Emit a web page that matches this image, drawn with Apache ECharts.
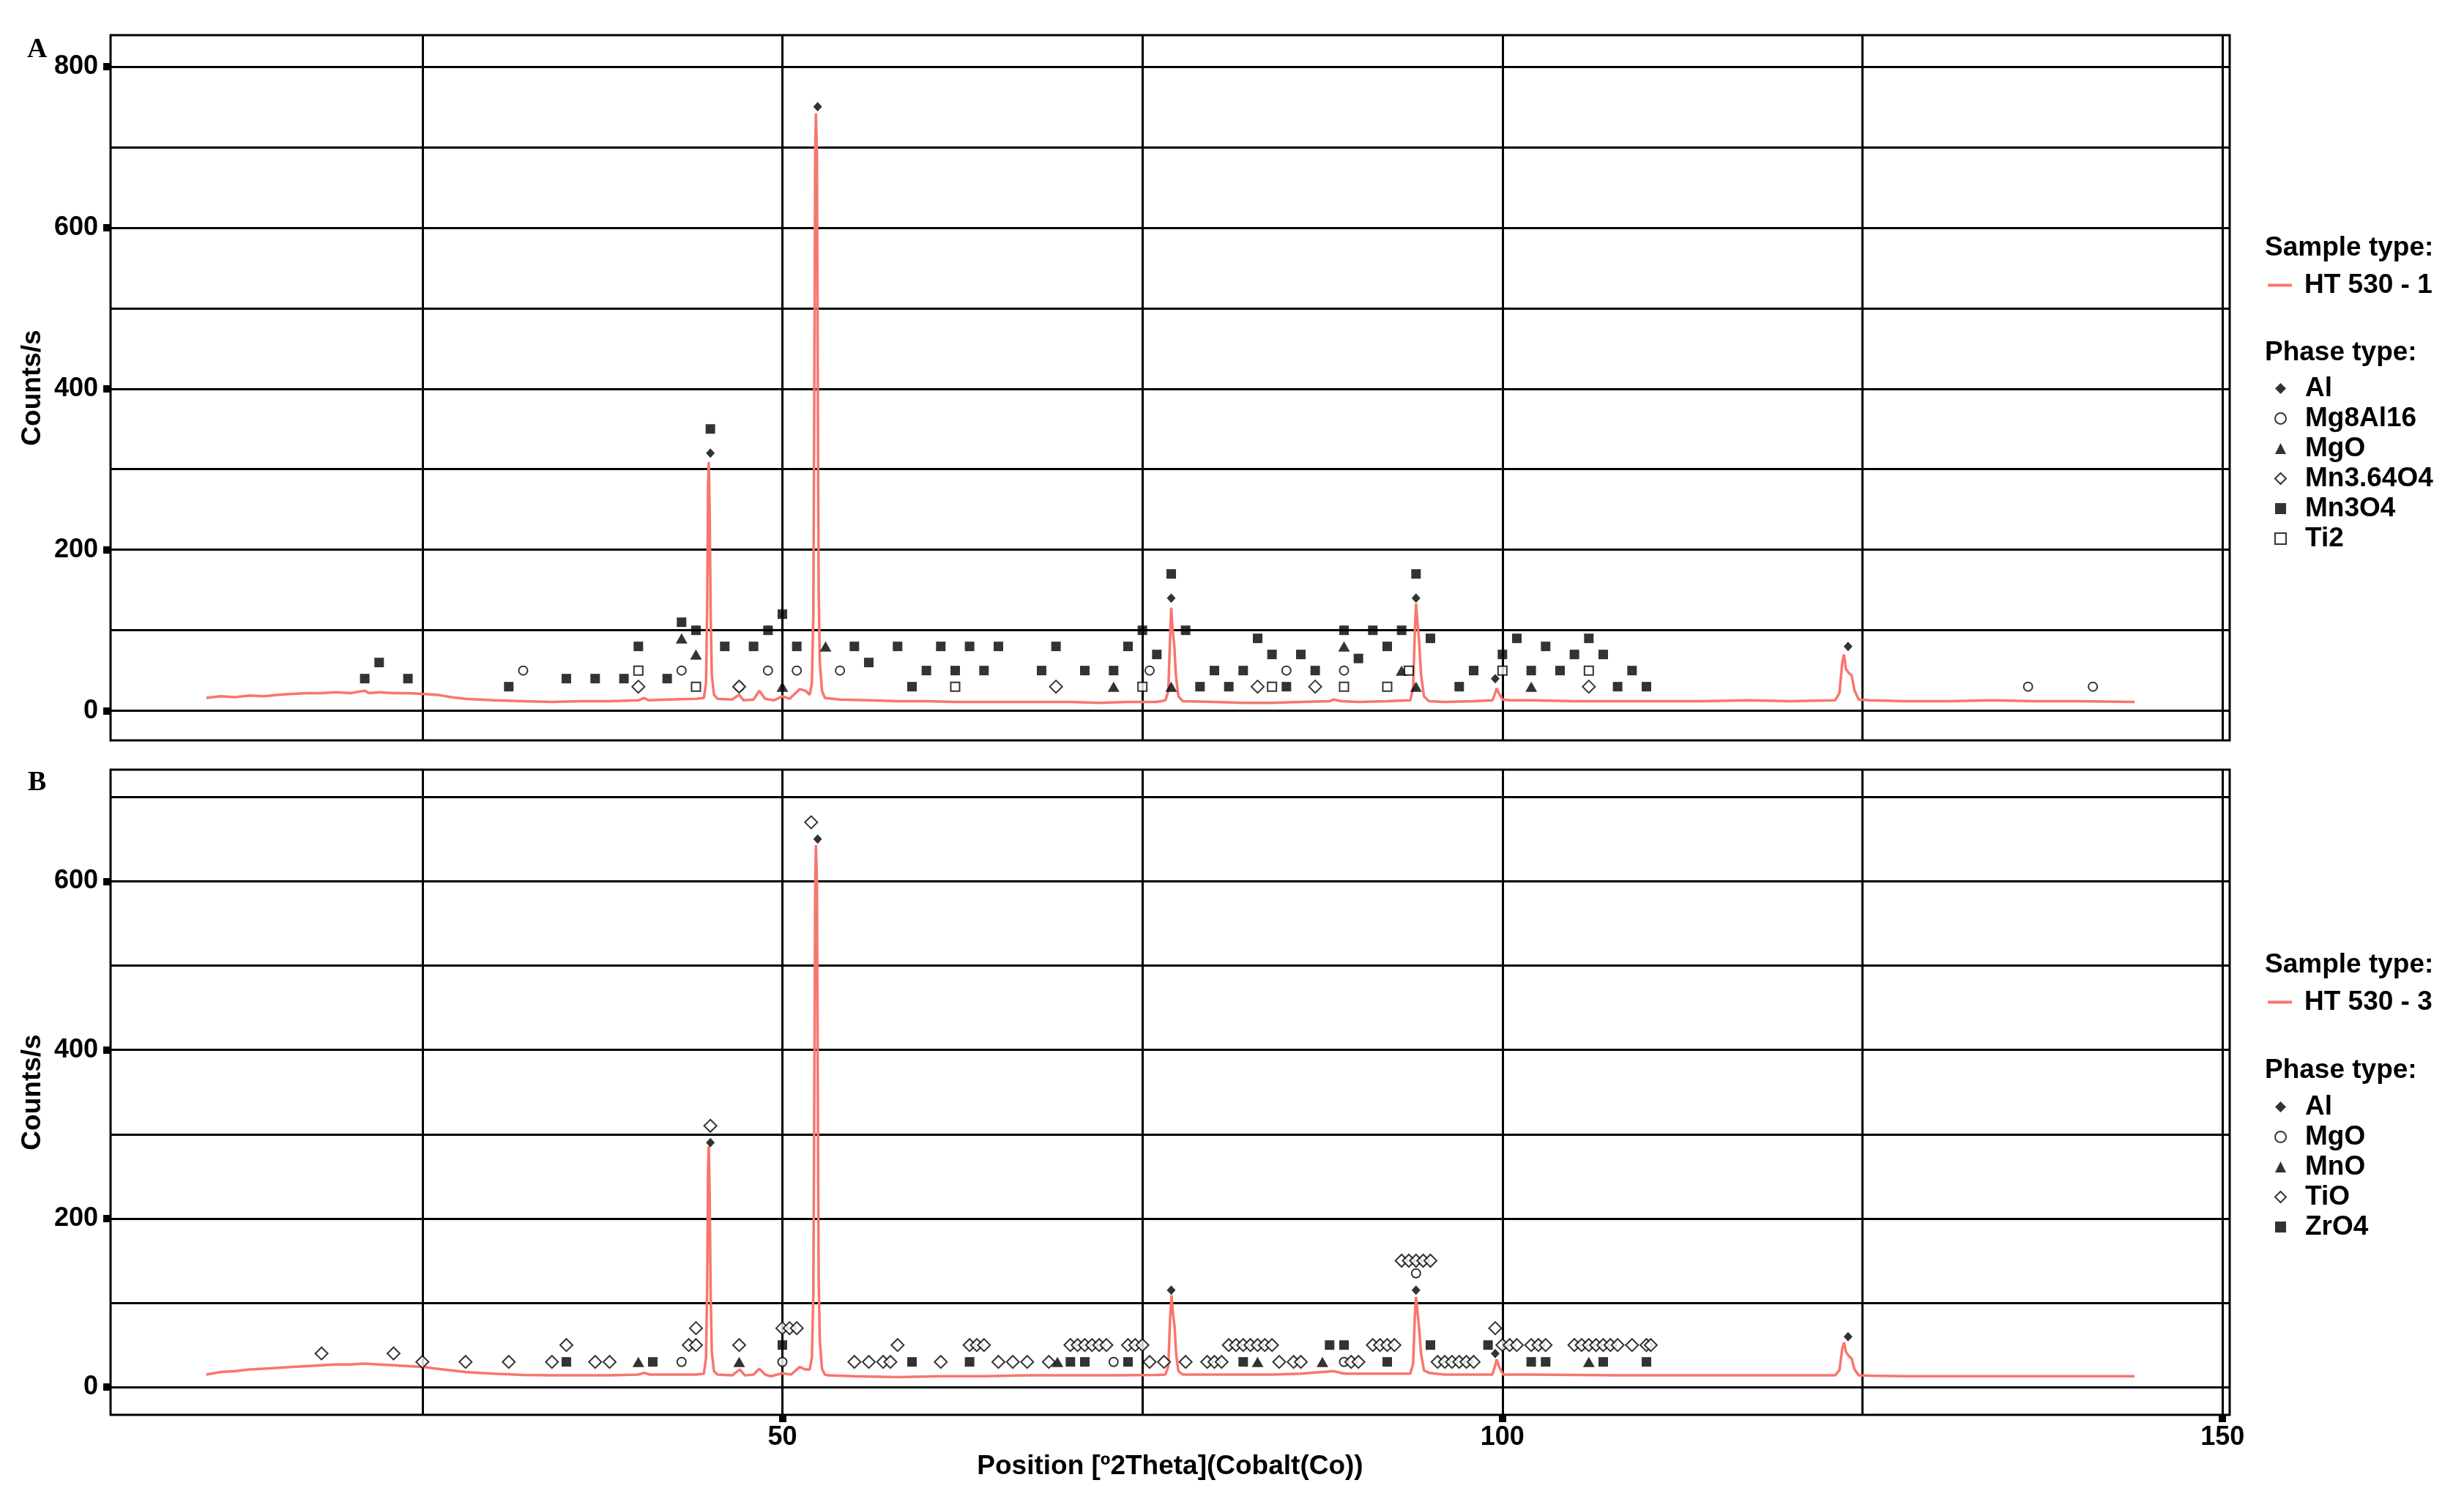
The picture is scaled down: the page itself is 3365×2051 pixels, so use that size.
<!DOCTYPE html>
<html><head><meta charset="utf-8">
<script src="https://cdn.jsdelivr.net/npm/echarts@6/dist/echarts.min.js"></script>
<style>html,body{margin:0;padding:0;background:#fff}#c{width:3365px;height:2051px}</style>
</head><body><div id="c"></div>
<script>
// ---------- Panel A data ----------
const lineA = [
 [10.0,16],[11,18],[12,17],[13,19],[14,18],[15,20],[16,21],[17,22],[18,22],[19,23],[20,22],[21,25],[21.3,22],[22,23],[23,22],[24,22],[25,21],[26,20],[27,17],[28,15],[29,14],[30,13],[32,12],[34,11],[36,12],[38,12],[40,13],[40.4,16],[40.7,13],[42,14],[44,15],
 [44.55,16],[44.7,35],[44.78,130],[44.84,280],[44.89,309],[44.95,250],[45.02,120],[45.1,45],[45.25,20],[45.5,15],
 [46.5,14],[47.0,20],[47.3,13],[48.0,14],[48.4,25],[48.8,15],[49.4,13],[50.0,18],[50.5,15],[51.2,27],[51.6,25],
 [51.9,20],[52.05,35],[52.15,120],[52.22,400],[52.28,700],[52.33,742],[52.4,690],[52.46,400],[52.52,150],[52.6,60],[52.75,25],[52.95,16],
 [54,14],[56,13],[58,12],[60,12],[62,11],[64,11],[66,11],[68,11],[70,11],[72,10],[74,11],[76,11],
 [76.6,13],[76.8,25],[76.92,90],[77.0,128],[77.1,100],[77.22,80],[77.32,45],[77.5,18],[77.8,12],
 [80,11],[82,10],[84,10],[86,11],[88,12],[88.3,14],[88.8,12],[90,11],[92,12],
 [93.6,13],[93.8,28],[93.92,100],[94.0,133],[94.1,110],[94.22,85],[94.35,45],[94.55,18],[94.9,12],
 [96,11],[98,12],[99.3,13],[99.5,22],[99.6,28],[99.75,22],[100.0,14],[100.5,13],[102,13],[105,12],[108,12],[111,12],[114,12],[117,13],[120,12],
 [123.1,13],[123.4,22],[123.6,60],[123.72,70],[123.85,52],[124.05,47],[124.25,44],[124.45,25],[124.75,14],
 [125.5,13],[128,12],[131,12],[134,13],[137,12],[140,12],[143.9,11]
];
const A_Al = [[45.0,320],[52.45,750],[77.0,140],[94.0,140],[99.5,40],[124.0,80]];
const A_Mg8Al16 = [[32,50],[43,50],[47,30],[49,50],[51,50],[54,50],[75.5,50],[85,50],[89,50],[136.5,30],[141,30]];
const A_MgO = [[43,90],[44,70],[50,30],[53,80],[73,30],[77,30],[89,80],[93,50],[94,30],[102,30]];
const A_Mn364O4 = [[40,30],[47,30],[69,30],[83,30],[87,30],[106,30]];
const A_Mn3O4 = [[21,40],[22,60],[24,40],[31,30],[35,40],[37,40],[39,40],[40,80],[42,40],[43,110],[44,100],[45,350],[46,80],[48,80],[49,100],[50,120],[51,80],[55,80],[56,60],[58,80],[59,30],[60,50],[61,80],[62,50],[63,80],[64,50],[65,80],[68,50],[69,80],[71,50],[73,50],[74,80],[75,100],[76,70],[77,170],[78,100],[79,30],[80,50],[81,30],[82,50],[83,90],[84,70],[85,30],[86,70],[87,50],[89,100],[90,65],[91,100],[92,80],[93,100],[94,170],[95,90],[97,30],[98,50],[100,70],[101,90],[102,50],[103,80],[104,50],[105,70],[106,90],[107,70],[108,30],[109,50],[110,30]];
const A_Ti2 = [[40,50],[44,30],[62,30],[75,30],[84,30],[89,30],[92,30],[93.5,50],[100,50],[106,50]];

// ---------- Panel B data ----------
const lineB = [
 [10.0,15],[11,18],[12,19],[13,21],[14,22],[15,23],[16,24],[17,25],[18,26],[19,27],[20,27],[21,28],[22,27],[23,26],[24,25],[25,24],[26,22],[27,20],[28,18],[29,17],[30,16],[32,14.5],[34,14],[36,14],[38,14],[40,15],[40.4,17],[40.8,15],[42,15],[44,15],
 [44.55,16],[44.7,35],[44.78,120],[44.84,260],[44.89,286],[44.95,230],[45.02,110],[45.1,42],[45.25,19],[45.5,15],
 [46.5,14],[47.05,21],[47.4,14],[48.0,15],[48.4,22],[48.8,15],[49.2,13],[50.0,16.5],[50.6,15],[51.2,24],[51.6,21],
 [51.9,21],[52.05,35],[52.15,110],[52.22,350],[52.28,600],[52.33,643],[52.4,600],[52.46,350],[52.52,130],[52.6,55],[52.75,22],[52.95,15],
 [53.2,14],[55,13],[58,12],[61,13],[64,13],[67,14],[70,14],[73,14],[76,14.5],
 [76.6,15],[76.8,25],[76.92,80],[77.02,109],[77.12,88],[77.24,71],[77.34,40],[77.5,19],[77.8,15],
 [80,15],[82,15],[84,15],[86,16],[88.3,19],[89,16],[91,16],[93,16],
 [93.6,16],[93.8,28],[93.92,85],[94.0,107],[94.1,90],[94.22,69],[94.35,40],[94.55,20],[94.9,17],
 [96,15],[98,15],[99.3,15],[99.5,26],[99.6,33],[99.75,25],[100.05,15],[102,15],[105,14.5],[108,14],[111,14],[114,14],[117,14],[120,14],
 [123.1,14],[123.4,20],[123.6,46],[123.72,53],[123.85,42],[124.05,37],[124.25,34],[124.45,21],[124.75,14],
 [125.5,13.6],[128,13],[132,13],[136,13],[140,13],[143.9,13]
];
const B_Al = [[45.0,290],[52.45,650],[77.0,115],[94.0,115],[99.5,40],[124.0,60]];
const B_MgO = [[43,30],[50,30],[73,30],[89,30],[94,135]];
const B_MnO = [[40,30],[47,30],[69.1,30],[83,30],[87.5,30],[106,30]];
const B_TiO = [
 [18,40],[23,40],
 [25,30],[28,30],[31,30],[34,30],[37,30],[38,30],[55,30],[56,30],[57,30],[57.5,30],[61,30],[65,30],[66,30],[67,30],[68.5,30],[75.5,30],[76.5,30],[78,30],[79.5,30],[80,30],[80.5,30],[84.5,30],[85.5,30],[86,30],[89.5,30],[90,30],[95.5,30],[96,30],[96.5,30],[97,30],[97.5,30],[98,30],
 [35,50],[43.5,50],[44,50],[47,50],[58,50],[63,50],[63.5,50],[64,50],[70,50],[70.5,50],[71,50],[71.5,50],[72,50],[72.5,50],[74,50],[74.5,50],[75,50],[81,50],[81.5,50],[82,50],[82.5,50],[83,50],[83.5,50],[84,50],[91,50],[91.5,50],[92,50],[92.5,50],[100,50],[100.5,50],[101,50],[102,50],[102.5,50],[103,50],[105,50],[105.5,50],[106,50],[106.5,50],[107,50],[107.5,50],[108,50],[109,50],[110,50],[110.3,50],
 [44,70],[50,70],[50.5,70],[51,70],[99.5,70],
 [93,150],[93.5,150],[94,150],[94.5,150],[95,150],
 [45.0,310],[52.0,670]
];
const B_ZrO4 = [[35,30],[41,30],[50,50],[59,30],[63,30],[70,30],[71,30],[74,30],[82,30],[88,50],[89,50],[92,30],[95,50],[99,50],[102,30],[103,30],[107,30],[110,30]];

// ---------- ticks ----------
const xLabelTicks = [50,100,150];
const xGridTicks = [25,50,75,100,125,150];
const yLabelTicksA = [0,200,400,600,800];
const yGridTicksA = [0,100,200,300,400,500,600,700,800];
const yLabelTicksB = [0,200,400,600];
const yGridTicksB = [0,100,200,300,400,500,600,700];

const FONT = "'Liberation Sans', Arial, sans-serif";
const SERIF = "'Liberation Serif', 'Times New Roman', serif";
const RED = '#F8766D';
const XMIN = 3.35, XMAX = 150.5;

const symStyles = {
  Al:      {symbol:'diamond', symbolSize:[12,13], itemStyle:{color:'#000'}},
  circle:  {symbol:'circle', symbolSize:12, itemStyle:{color:'#fff', borderColor:'#000', borderWidth:2}},
  tri:     {symbol:'triangle', symbolSize:[16,14], itemStyle:{color:'#000'}},
  odiam:   {symbol:'diamond', symbolSize:[17,17], itemStyle:{color:'#fff', borderColor:'#000', borderWidth:2}},
  fsq:     {symbol:'rect', symbolSize:13, itemStyle:{color:'#000'}},
  osq:     {symbol:'rect', symbolSize:12, itemStyle:{color:'#fff', borderColor:'#000', borderWidth:2}}
};
function scat(name, data, style, xi, yi) {
  return Object.assign({type:'scatter', name:name, data:data, xAxisIndex:xi, yAxisIndex:yi, z:4, silent:true}, style);
}

const noLine = {show:false, onZero:false};
const gridLine = {show:true, lineStyle:{color:'#000', width:3}};
const tickStyle = {show:true, inside:false, length:10, lineStyle:{color:'#000', width:10}};
const lblStyle = {fontSize:36, fontWeight:'bold', color:'#000', fontFamily:FONT};
const legText = {fontSize:37, fontWeight:'bold', color:'#000', fontFamily:FONT, lineHeight:41};
const headText = {fontFamily:FONT, fontWeight:'bold', fontSize:37, lineHeight:41, color:'#000'};

const option = {
  animation:false,
  backgroundColor:'#fff',
  textStyle:{fontFamily:FONT},
  title:[
    {text:'A', left:32, top:44, textStyle:{fontFamily:SERIF, fontWeight:'bold', fontSize:38, color:'#000'}},
    {text:'B', left:33, top:1045, textStyle:{fontFamily:SERIF, fontWeight:'bold', fontSize:38, color:'#000'}},
    {text:'Sample type:', left:3088, top:313, textStyle:headText},
    {text:'Phase type:', left:3088, top:456, textStyle:headText},
    {text:'Sample type:', left:3088, top:1292, textStyle:headText},
    {text:'Phase type:', left:3088, top:1436, textStyle:headText}
  ],
  legend:[
    {data:['HT 530 - 1'], left:3092, top:364, orient:'vertical', icon:'rect', itemWidth:33, itemHeight:4, selectedMode:false,
     textStyle:Object.assign({padding:[0,0,0,12]}, legText)},
    {data:['A|Al','A|Mg8Al16','A|MgO','A|Mn3.64O4','A|Mn3O4','A|Ti2'], left:3101, top:505, orient:'vertical', itemWidth:15, itemHeight:15, itemGap:0, selectedMode:false,
     formatter:n=>n.split('|')[1], textStyle:Object.assign({padding:[0,0,0,21]}, legText)},
    {data:['HT 530 - 3'], left:3092, top:1343, orient:'vertical', icon:'rect', itemWidth:33, itemHeight:4, selectedMode:false,
     textStyle:Object.assign({padding:[0,0,0,12]}, legText)},
    {data:['B|Al','B|MgO','B|MnO','B|TiO','B|ZrO4'], left:3101, top:1486, orient:'vertical', itemWidth:15, itemHeight:15, itemGap:0, selectedMode:false,
     formatter:n=>n.split('|')[1], textStyle:Object.assign({padding:[0,0,0,21]}, legText)}
  ],
  grid:[
    {left:151, top:48, width:2894, height:963, show:true, borderColor:'#000', borderWidth:3, backgroundColor:'transparent'},
    {left:151, top:1051, width:2894, height:881, show:true, borderColor:'#000', borderWidth:3, backgroundColor:'transparent'}
  ],
  xAxis:[
    {type:'value', gridIndex:0, min:XMIN, max:XMAX, position:'bottom', axisLine:noLine, axisLabel:{show:false},
     axisTick:{show:false, customValues:xGridTicks}, splitLine:gridLine},
    {type:'value', gridIndex:1, min:XMIN, max:XMAX, position:'bottom', axisLine:noLine,
     axisTick:Object.assign({customValues:xLabelTicks}, tickStyle),
     axisLabel:Object.assign({customValues:xLabelTicks, margin:13}, lblStyle),
     splitLine:{show:false},
     name:'Position [º2Theta](Cobalt(Co))', nameLocation:'middle', nameGap:52,
     nameTextStyle:{fontSize:37, fontWeight:'bold', color:'#000', fontFamily:FONT}},
    {type:'value', gridIndex:1, min:XMIN, max:XMAX, position:'bottom', axisLine:noLine, axisLabel:{show:false},
     axisTick:{show:false, customValues:xGridTicks}, splitLine:gridLine}
  ],
  yAxis:[
    {type:'value', gridIndex:0, min:-36.7, max:839, position:'left', axisLine:noLine,
     axisTick:Object.assign({customValues:yLabelTicksA}, tickStyle),
     axisLabel:Object.assign({customValues:yLabelTicksA, margin:17}, lblStyle),
     splitLine:{show:false},
     name:'Counts/s', nameLocation:'middle', nameRotate:90, nameGap:82,
     nameTextStyle:{fontSize:37, fontWeight:'bold', color:'#000', fontFamily:FONT}},
    {type:'value', gridIndex:0, min:-36.7, max:839, position:'right', axisLine:noLine, axisLabel:{show:false},
     axisTick:{show:false, customValues:yGridTicksA}, splitLine:gridLine},
    {type:'value', gridIndex:1, min:-32.8, max:732.4, position:'left', axisLine:noLine,
     axisTick:Object.assign({customValues:yLabelTicksB}, tickStyle),
     axisLabel:Object.assign({customValues:yLabelTicksB, margin:17}, lblStyle),
     splitLine:{show:false},
     name:'Counts/s', nameLocation:'middle', nameRotate:90, nameGap:82,
     nameTextStyle:{fontSize:37, fontWeight:'bold', color:'#000', fontFamily:FONT}},
    {type:'value', gridIndex:1, min:-32.8, max:732.4, position:'right', axisLine:noLine, axisLabel:{show:false},
     axisTick:{show:false, customValues:yGridTicksB}, splitLine:gridLine}
  ],
  series:[
    {type:'line', name:'HT 530 - 1', data:lineA, xAxisIndex:0, yAxisIndex:0, showSymbol:false, symbol:'none', z:3,
     color:RED, itemStyle:{color:RED}, lineStyle:{color:RED, width:3.5}},
    scat('A|Al', A_Al, symStyles.Al, 0, 0),
    scat('A|Mg8Al16', A_Mg8Al16, symStyles.circle, 0, 0),
    scat('A|MgO', A_MgO, symStyles.tri, 0, 0),
    scat('A|Mn3.64O4', A_Mn364O4, symStyles.odiam, 0, 0),
    scat('A|Mn3O4', A_Mn3O4, symStyles.fsq, 0, 0),
    scat('A|Ti2', A_Ti2, symStyles.osq, 0, 0),
    {type:'line', name:'HT 530 - 3', data:lineB, xAxisIndex:1, yAxisIndex:2, showSymbol:false, symbol:'none', z:3,
     color:RED, itemStyle:{color:RED}, lineStyle:{color:RED, width:3.5}},
    scat('B|Al', B_Al, symStyles.Al, 1, 2),
    scat('B|MgO', B_MgO, symStyles.circle, 1, 2),
    scat('B|MnO', B_MnO, symStyles.tri, 1, 2),
    scat('B|TiO', B_TiO, symStyles.odiam, 1, 2),
    scat('B|ZrO4', B_ZrO4, symStyles.fsq, 1, 2)
  ]
};
const chart = echarts.init(document.getElementById('c'), null, {renderer:'canvas'});
chart.setOption(option);
</script>
</body></html>
